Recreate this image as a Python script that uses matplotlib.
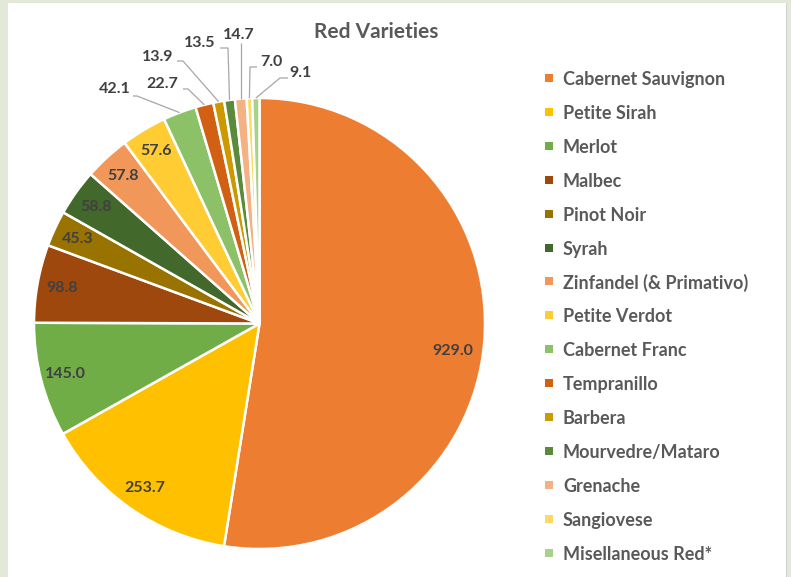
import numpy as np
import matplotlib
matplotlib.use("Agg")
import matplotlib.pyplot as plt
from matplotlib.patches import Rectangle

categories = ["Cabernet Sauvignon", "Petite Sirah", "Merlot", "Malbec", "Pinot Noir",
              "Syrah", "Zinfandel (& Primativo)", "Petite Verdot", "Cabernet Franc",
              "Tempranillo", "Barbera", "Mourvedre/Mataro", "Grenache", "Sangiovese",
              "Misellaneous Red*"]
values = [929.0, 253.7, 145.0, 98.8, 45.3, 58.8, 57.8, 57.6, 42.1, 22.7, 13.9, 13.5, 14.7, 7.0, 9.1]
colors = ["#ED7D31", "#FFC000", "#70AD47", "#9E480E", "#997300", "#43682B", "#F1975A",
          "#FFCD33", "#8CC168", "#D26012", "#CC9A00", "#5A8A3A", "#F4B183", "#FFD966", "#A9D18E"]
title = "Red Varieties"

W, H = 791, 577
fig = plt.figure(figsize=(W / 100, H / 100), dpi=100)
fig.patch.set_facecolor("#E2E9D8")
FONT = "Lato"

# white chart area
fig.patches.append(Rectangle((8 / W, 0), (786 - 8) / W, (H - 3) / H, transform=fig.transFigure,
                             facecolor="white", edgecolor="none", zorder=-2))
fig.patches.append(Rectangle((786 / W, 0), 1.2 / W, (H - 3) / H, transform=fig.transFigure,
                             facecolor="#D0D0D0", edgecolor="none", zorder=-2))

cx, cy, R = 259.5, 323.5, 225.5
ax = fig.add_axes([(cx - R) / W, (H - cy - R) / H, 2 * R / W, 2 * R / H])
ax.set_zorder(1)

wedges, _ = ax.pie(values, colors=colors, startangle=90, counterclock=False, radius=1,
                   wedgeprops=dict(edgecolor="white", linewidth=1.8))
ax.set_xlim(-1, 1)
ax.set_ylim(-1, 1)
ax.set_aspect("equal")
ax.axis("off")

txt_color = "#404040"
n_inside = 8
LBL_FS = 11.5

def px2d(x, y):
    return (x - cx) / R, (cy - y) / R

for i, w in enumerate(wedges[:n_inside]):
    mid = np.deg2rad((w.theta1 + w.theta2) / 2)
    r = 0.89
    x, y = r * np.cos(mid), r * np.sin(mid)
    if i == 0:
        x, y = x - 0.03, y - 0.05
    ax.text(x, y, f"{values[i]:.1f}", ha="center", va="center", fontsize=LBL_FS,
            fontweight="bold", color=txt_color, family=FONT)

# outside labels: text centre (px) and elbow points (px)
out_text = [(115, 89), (162, 84), (158, 57), (200, 43), (239, 35), (271, 62), (301, 73)]
out_line = [[(133, 96), (137, 96)], [(183, 89), (188, 89)], [(177, 61), (183, 61)],
            [(220, 48), (228, 48)], [(240, 43)], [(257, 67), (250, 67)], [(288, 78), (280, 78)]]
for k, w in enumerate(wedges[n_inside:]):
    i = n_inside + k
    mid = np.deg2rad((w.theta1 + w.theta2) / 2)
    ax_, ay_ = np.cos(mid), np.sin(mid)
    pts = [px2d(*p) for p in out_line[k]]
    xs = [p[0] for p in pts] + [ax_]
    ys = [p[1] for p in pts] + [ay_]
    if len(out_line[k]) == 1:
        xs[0] = ax_
    ax.plot(xs, ys, color="#A6A6A6", lw=0.9, clip_on=False, solid_capstyle="butt")
    tx, ty = px2d(*out_text[k])
    ax.text(tx, ty, f"{values[i]:.1f}", ha="center", va="center", fontsize=LBL_FS,
            fontweight="bold", color=txt_color, family=FONT, clip_on=False)

fig.text(376 / W, 1 - 31.5 / H, title, ha="center", va="center", fontsize=15,
         fontweight="bold", color="#595959", family=FONT)

# legend
leg_x, leg_y0, leg_dy = 549, 78, 33.9
for i, (c, lab) in enumerate(zip(colors, categories)):
    y = leg_y0 + i * leg_dy
    fig.patches.append(Rectangle(((leg_x - 4) / W, 1 - (y + 4) / H), 8 / W, 8 / H,
                                 transform=fig.transFigure, facecolor=c, edgecolor="none"))
    fig.text((leg_x + 14) / W, 1 - (y + 1.5) / H, lab, ha="left", va="center", fontsize=13,
             fontweight="bold", color="#595959", family=FONT)

fig.savefig("out.png", dpi=100)
